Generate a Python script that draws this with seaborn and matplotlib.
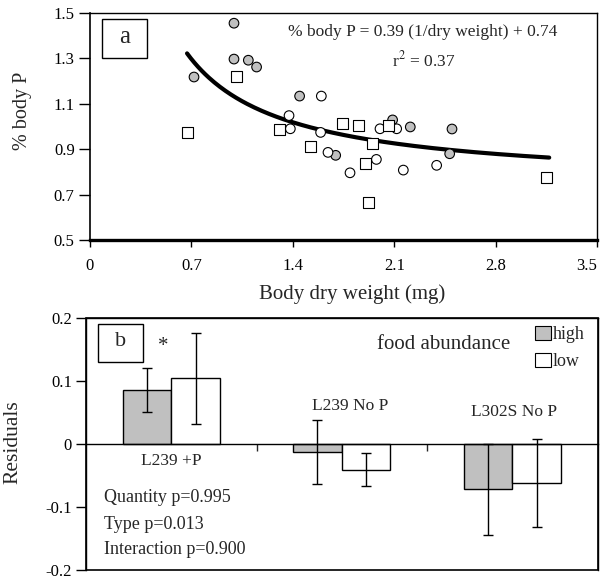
import numpy as np
import pandas as pd
import matplotlib
matplotlib.use("Agg")
import matplotlib.pyplot as plt
from matplotlib.patches import Rectangle, Patch
import seaborn as sns

# ---------------- data: panel a ----------------
gray_x = [0.994, 0.994, 1.093, 1.150, 0.718, 1.447, 1.696, 2.089, 2.211, 2.499, 2.483]
gray_y = [1.455, 1.297, 1.292, 1.262, 1.218, 1.134, 0.873, 1.029, 0.998, 0.989, 0.880]
white_x = [1.597, 1.374, 1.383, 1.592, 1.643, 2.002, 2.117, 1.977, 1.795, 2.163, 2.393]
white_y = [1.134, 1.048, 0.990, 0.974, 0.886, 0.990, 0.990, 0.855, 0.796, 0.808, 0.829]
square_x = [1.013, 0.674, 1.305, 1.519, 1.744, 1.855, 2.062, 1.947, 1.901, 3.153, 1.924]
square_y = [1.221, 0.974, 0.986, 0.910, 1.014, 1.004, 1.004, 0.926, 0.835, 0.774, 0.664]
fit_slope = 0.39
fit_intercept = 0.74
fit_range = [0.67, 3.17]
x_ticks_a = [0, 0.7, 1.4, 2.1, 2.8, 3.5]
y_ticks_a = [0.5, 0.7, 0.9, 1.1, 1.3, 1.5]

# ---------------- data: panel b ----------------
sites = ["L239 +P", "L239 No P", "L302S No P"]
food_levels = ["high", "low"]
resid_high = [0.086, -0.013, -0.072]
resid_low = [0.104, -0.041, -0.062]
err_high = [0.035, 0.051, 0.072]
err_low = [0.072, 0.026, 0.070]
y_ticks_b = [-0.2, -0.1, 0, 0.1, 0.2]
stats_lines = ["Quantity p=0.995", "Type p=0.013", "Interaction p=0.900"]

GRAY = "#c0c0c0"

sns.set_theme(style="ticks")
plt.rcParams["font.family"] = ["Liberation Serif", "DejaVu Serif"]
plt.rcParams["mathtext.fontset"] = "stix"

fig = plt.figure(figsize=(6.02, 5.79), dpi=100)
W, H = 602, 579
def fx(px):
    return px / W
def fy(py):
    return 1 - py / H

ax1 = fig.add_axes([fx(90), fy(240), fx(597) - fx(90), fy(13) - fy(240)])
ax2 = fig.add_axes([fx(86), fy(570), fx(597.5) - fx(86), fy(318) - fy(570)])

TICK_FS = 12

# ---------- panel a ----------
df = pd.DataFrame({
    "x": gray_x + white_x + square_x,
    "y": gray_y + white_y + square_y,
    "group": ["gray"] * len(gray_x) + ["white"] * len(white_x) + ["square"] * len(square_x),
})
xf = np.linspace(fit_range[0], fit_range[1], 200)
fit_df = pd.DataFrame({"x": xf, "y": fit_slope / xf + fit_intercept})
sns.lineplot(data=fit_df, x="x", y="y", color="black", linewidth=3, ax=ax1, zorder=2)
sns.scatterplot(data=df, x="x", y="y", hue="group", style="group", size="group",
                palette={"gray": GRAY, "white": "white", "square": "white"},
                markers={"gray": "o", "white": "o", "square": "s"},
                sizes={"gray": 48, "white": 48, "square": 62},
                edgecolor="black", linewidth=0.8, legend=False, ax=ax1, zorder=3)
ax1.set_xlim(0, 3.5)
ax1.set_ylim(0.5, 1.5)
ax1.set_xticks(x_ticks_a)
ax1.set_xticklabels([f"{v:g}" for v in x_ticks_a])
ax1.set_yticks(y_ticks_a)
ax1.set_yticklabels([f"{v:.1f}" for v in y_ticks_a])
ax1.set_xlabel("")
ax1.set_ylabel("")
for s in ["top", "right"]:
    ax1.spines[s].set_visible(True)
    ax1.spines[s].set_linewidth(1.0)
ax1.spines["left"].set_linewidth(1.2)
ax1.spines["bottom"].set_linewidth(2.4)
for sp in ax1.spines.values():
    sp.set_color("black")
ax1.tick_params(axis="y", direction="out", length=8, width=1, pad=3,
                labelsize=TICK_FS, colors="black")
ax1.tick_params(axis="x", direction="out", length=5, width=1, pad=8,
                labelsize=TICK_FS, colors="black")
ax1.get_xticklabels()[-1].set_horizontalalignment("right")
ax1.add_patch(Rectangle((0.0237, 0.803), 0.088, 0.169, transform=ax1.transAxes,
                        fill=False, edgecolor="black", linewidth=1, zorder=5))
ax1.text(0.0677, 0.893, "a", transform=ax1.transAxes, ha="center", va="center", fontsize=18)
ax1.text(0.657, 0.916, "% body P = 0.39 (1/dry weight) + 0.74", transform=ax1.transAxes,
         ha="center", va="center", fontsize=12.5)
ax1.text(0.659, 0.793, "r$^2$ = 0.37", transform=ax1.transAxes, ha="center", va="center", fontsize=12.5)
fig.text(fx(352), fy(294), "Body dry weight (mg)", ha="center", va="center", fontsize=15)
fig.text(fx(22), fy(111), "% body P", ha="center", va="center", rotation=90, fontsize=14.5)

# ---------- panel b ----------
dfb = pd.DataFrame({
    "site": sites * 2,
    "food": ["high"] * len(sites) + ["low"] * len(sites),
    "value": resid_high + resid_low,
    "err": err_high + err_low,
})
sns.barplot(data=dfb, x="site", y="value", hue="food", order=sites, hue_order=food_levels,
            palette={"high": GRAY, "low": "white"}, saturation=1, width=0.57,
            edgecolor="black", linewidth=1, errorbar=None, legend=False, ax=ax2, zorder=2)
for cont, lvl in zip(ax2.containers, food_levels):
    sub = dfb[dfb["food"] == lvl]
    cx = [b.get_x() + b.get_width() / 2 for b in cont]
    ax2.errorbar(cx, sub["value"], yerr=sub["err"], fmt="none", ecolor="black",
                 elinewidth=1, capsize=3.8, capthick=1, zorder=3)
ax2.set_xlim(-0.5, len(sites) - 0.5)
ax2.set_ylim(-0.2, 0.2)
ax2.set_yticks(y_ticks_b)
ax2.set_yticklabels([f"{v:g}" for v in y_ticks_b])
ax2.set_xticks([i + 0.5 for i in range(len(sites) - 1)])
ax2.set_xticklabels([])
ax2.set_xlabel("")
ax2.set_ylabel("")
ax2.spines["bottom"].set_position(("data", 0))
for s in ["top", "right"]:
    ax2.spines[s].set_visible(True)
for sp in ax2.spines.values():
    sp.set_color("black")
    sp.set_linewidth(1.0)
ax2.add_patch(Rectangle((0, 0), 1, 1, transform=ax2.transAxes, fill=False,
                        edgecolor="black", linewidth=1.2, zorder=5, clip_on=False))
ax2.tick_params(axis="y", direction="out", length=7, width=1, pad=3,
                labelsize=TICK_FS, colors="black")
ax2.tick_params(axis="x", direction="out", length=5, width=1)
label_pos = [(0, -0.027), (1.05, 0.060), (2.01, 0.050)]
for name, (xx, yy) in zip(sites, label_pos):
    ax2.text(xx, yy, name, ha="center", va="center", fontsize=12.5)
for i, line in enumerate(stats_lines):
    ax2.text(0.035, [-0.0853, -0.128, -0.168][i], line, transform=ax2.get_yaxis_transform(),
             ha="left", va="center", fontsize=13)
ax2.add_patch(Rectangle((0.0229, 0.8256), 0.0878, 0.149, transform=ax2.transAxes,
                        fill=False, edgecolor="black", linewidth=1, zorder=5))
ax2.text(0.0668, 0.905, "b", transform=ax2.transAxes, ha="center", va="center", fontsize=16)
ax2.text(0.151, 0.885, "*", transform=ax2.transAxes, ha="center", va="center", fontsize=15)
ax2.text(0.699, 0.158, "food abundance", transform=ax2.get_yaxis_transform(),
         ha="center", va="center", fontsize=15)
handles = [Patch(facecolor=GRAY, edgecolor="black", linewidth=0.8),
           Patch(facecolor="white", edgecolor="black", linewidth=0.8)]
ax2.legend(handles, food_levels, loc="upper left", bbox_to_anchor=(fx(535), fy(326)),
           bbox_transform=fig.transFigure, frameon=False, fontsize=13,
           borderpad=0, borderaxespad=0, handlelength=0.9, handleheight=0.8,
           handletextpad=0.1, labelspacing=0.55)
fig.text(fx(12.5), fy(442), "Residuals", ha="center", va="center", rotation=90, fontsize=15.5)

fig.savefig("out.png", dpi=100)
